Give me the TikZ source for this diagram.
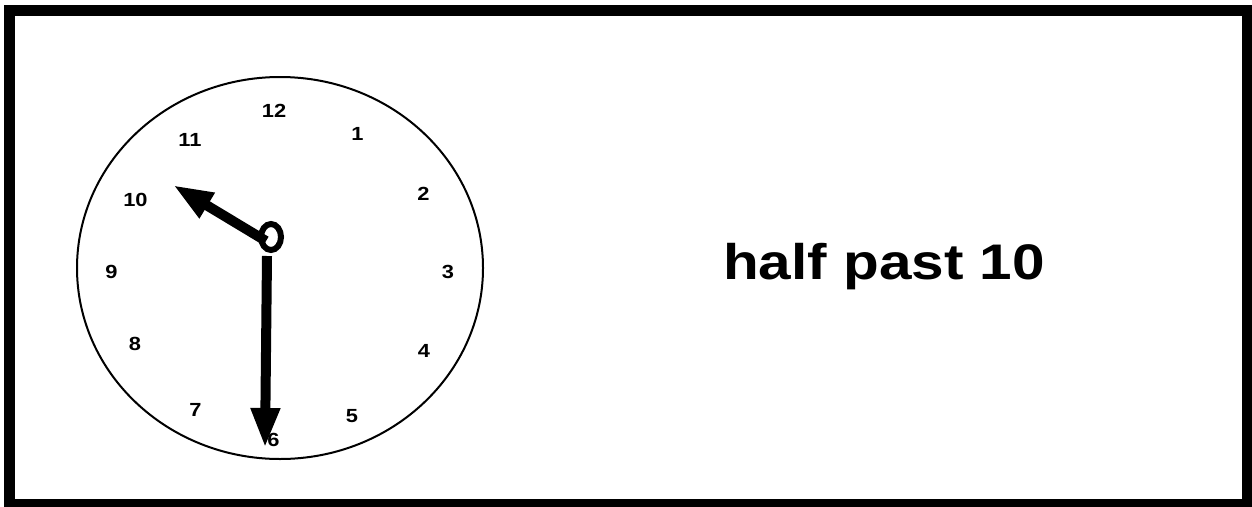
\documentclass[tikz,border=0pt]{standalone}
\usepackage{fontspec}
\setmainfont{Liberation Sans}
\usetikzlibrary{arrows.meta}
\tikzset{
  num/.style={inner sep=0pt, font=\fontsize{19}{19}\selectfont\bfseries, xscale=1.15, transform shape},
  hand/.style={line width=10pt, -{Triangle[length=40pt,width=27pt]}},
}
\begin{document}
\begin{tikzpicture}[x=1pt,y=-1pt]
\useasboundingbox (0,0) rectangle (1252,506);
\fill[white] (0,0) rectangle (1252,506);
\draw[line width=11pt] (9.5,10.5) rectangle (1247,504.5);
\draw[line width=2pt] (280,268) ellipse [x radius=203, y radius=191];
\node[num] (n12) at (274,110.5) {12};
\node[num] (n1) at (357.5,134) {1};
\node[num] (n2) at (423.5,194) {2};
\node[num] (n3) at (448,272) {3};
\node[num] (n4) at (424,350.5) {4};
\node[num] (n5) at (352,416) {5};
\node[num] (n6) at (273.5,440) {6};
\node[num] (n7) at (195.5,410) {7};
\node[num] (n8) at (135,344) {8};
\node[num] (n9) at (111.5,272) {9};
\node[num] (n10) at (135.5,200) {10};
\node[num] (n11) at (190,140) {11};
\coordinate (hub) at (271,237);
\coordinate (htail) at (266,241);
\coordinate (htip) at (173,185);
\coordinate (mtail) at (267,256);
\coordinate (mtip) at (265,448);
\draw[hand] (htail) -- (htip);
\draw[hand] (mtail) -- (mtip);
\draw[line width=6pt] (hub) ellipse [x radius=10, y radius=13];
\node[anchor=base, inner sep=0pt, font=\fontsize{50}{50}\selectfont\bfseries, xscale=1.17, transform shape] (label) at (884,279) {half past 10};
\end{tikzpicture}
\end{document}
